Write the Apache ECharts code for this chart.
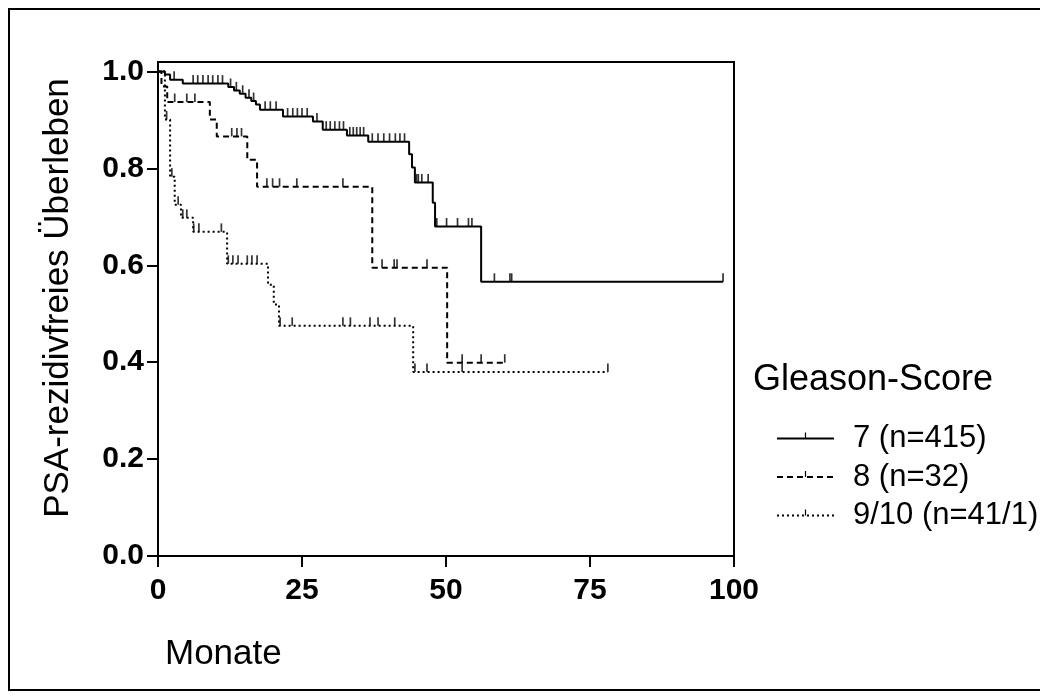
<!DOCTYPE html>
<html>
<head>
<meta charset="utf-8">
<script src="https://cdn.jsdelivr.net/npm/echarts@6/dist/echarts.min.js"></script>
<style>
html, body { margin: 0; padding: 0; background: #fff; }
#main { width: 1040px; height: 699px; }
</style>
</head>
<body>
<div id="main"></div>
<script>
// Kaplan-Meier steps: time (Monate) and survival after the step
var g7Times = [0, 1.2, 2.1, 4.3, 12.2, 13.2, 14.2, 15.2, 16.2, 17.0, 17.7, 21.7, 26.9, 28.6, 32.8, 36.5, 43.6, 44.1, 44.6, 47.7, 48.1, 56.1, 98.1];
var g7Surv  = [1.0, 0.994, 0.983, 0.975, 0.968, 0.961, 0.954, 0.946, 0.939, 0.932, 0.921, 0.907, 0.897, 0.880, 0.868, 0.855, 0.829, 0.802, 0.771, 0.729, 0.680, 0.566, 0.566];
var g7Censor = [2.8, 6.1, 6.9, 7.8, 8.7, 9.5, 10.4, 11.2, 12.6, 13.6, 14.7, 15.8, 16.6, 18.6, 19.5, 20.5, 22.5, 23.4, 24.2, 25.0, 25.9, 27.6, 29.2, 29.9, 30.7, 31.5, 32.2, 33.3, 33.9, 34.5, 35.1, 35.7, 37.2, 38.2, 39.2, 40.2, 41.2, 42.0, 42.8, 44.9, 45.2, 45.8, 46.9, 48.4, 50.1, 52.0, 53.9, 54.5, 58.4, 61.1, 61.4, 98.1];

var g8Times = [0, 0.6, 1.6, 9.0, 10.2, 15.5, 17.2, 37.2, 50.2, 60.2];
var g8Surv  = [1.0, 0.969, 0.937, 0.901, 0.866, 0.818, 0.762, 0.595, 0.399, 0.399];
var g8Censor = [2.9, 5.0, 6.4, 12.8, 13.7, 14.5, 18.9, 19.9, 21.1, 24.1, 32.1, 38.9, 41.0, 41.5, 46.7, 52.8, 56.1, 60.2];

var g9Times = [0, 1.2, 2.1, 2.9, 4.0, 6.1, 12.0, 19.1, 20.1, 21.0, 44.3, 78.1];
var g9Surv  = [1.0, 0.901, 0.783, 0.725, 0.698, 0.669, 0.603, 0.560, 0.519, 0.475, 0.380, 0.380];
var g9Censor = [1.5, 2.4, 3.5, 4.3, 5.0, 6.2, 7.1, 11.0, 12.2, 13.0, 13.9, 15.5, 16.3, 17.2, 21.2, 23.3, 32.1, 33.4, 36.8, 38.2, 41.1, 44.6, 46.7, 52.8, 78.1];

var groupNames = ['7 (n=415)', '8 (n=32)', '9/10 (n=41/1)'];
var yTicks = [0, 0.2, 0.4, 0.6, 0.8, 1.0];

var tickSymbol = 'path://M0,0M10,10M4.5,0H5.5V5H4.5Z';
var fontName = 'Liberation Sans, Arial, sans-serif';

function stepData(times, surv) {
    var out = [];
    for (var i = 0; i < times.length; i++) out.push([times[i], surv[i]]);
    return out;
}
function censorData(censor, times, surv) {
    var out = [];
    censor.forEach(function (t) {
        var s = surv[0];
        for (var i = 0; i < times.length; i++) {
            if (times[i] <= t) s = surv[i];
        }
        out.push([t, s]);
    });
    return out;
}

var groups = [
    { name: groupNames[0], times: g7Times, surv: g7Surv, censor: g7Censor, dash: 'solid' },
    { name: groupNames[1], times: g8Times, surv: g8Surv, censor: g8Censor, dash: [6, 4] },
    { name: groupNames[2], times: g9Times, surv: g9Surv, censor: g9Censor, dash: [2, 3] }
];

var series = [];
groups.forEach(function (g) {
    series.push({
        name: g.name,
        type: 'line',
        step: 'end',
        data: stepData(g.times, g.surv),
        symbol: tickSymbol,
        symbolSize: 12,
        showSymbol: false,
        silent: true,
        itemStyle: { color: '#000' },
        lineStyle: { color: '#000', width: 2, type: g.dash }
    });
    series.push({
        name: g.name,
        type: 'scatter',
        data: censorData(g.censor, g.times, g.surv),
        symbol: tickSymbol,
        symbolSize: 17,
        silent: true,
        itemStyle: { color: '#000' }
    });
});

var myChart = echarts.init(document.getElementById('main'));
var option = {
    animation: false,
    backgroundColor: '#fff',
    title: {
        text: 'Gleason-Score',
        left: 748,
        top: 357,
        textStyle: { fontFamily: fontName, fontSize: 36, fontWeight: 'normal', color: '#000' }
    },
    legend: {
        data: groupNames,
        orient: 'vertical',
        left: 776,
        top: 423,
        padding: 0,
        itemWidth: 57,
        itemHeight: 15,
        itemGap: 7.5,
        textStyle: { fontFamily: fontName, fontSize: 31, color: '#000', padding: [0, 0, 0, 14] }
    },
    grid: {
        left: 158,
        right: 306,
        top: 62,
        bottom: 143,
        show: true,
        borderColor: '#000',
        borderWidth: 2
    },
    xAxis: {
        type: 'value',
        min: 0,
        max: 100,
        interval: 25,
        axisLine: { lineStyle: { color: '#000', width: 2 } },
        axisTick: { length: 11, lineStyle: { color: '#000', width: 2 } },
        axisLabel: { fontFamily: fontName, fontSize: 30, fontWeight: 'bold', color: '#000', margin: 20 },
        splitLine: { show: false }
    },
    yAxis: {
        type: 'value',
        min: 0,
        max: 1.0196,
        name: 'PSA-rezidivfreies Überleben',
        nameLocation: 'middle',
        nameGap: 82,
        nameTextStyle: { fontFamily: fontName, fontSize: 35, color: '#000', padding: [0, 0, 0, 22] },
        axisLine: { lineStyle: { color: '#000', width: 2 } },
        axisTick: { length: 11, customValues: yTicks, lineStyle: { color: '#000', width: 2 } },
        axisLabel: {
            customValues: yTicks,
            fontFamily: fontName, fontSize: 30, fontWeight: 'bold', color: '#000', margin: 14,
            formatter: function (v) { return v.toFixed(1); }
        },
        splitLine: { show: false }
    },
    graphic: [
        {
            type: 'rect',
            shape: { x: 9, y: 9, width: 1040, height: 681 },
            style: { fill: 'none', stroke: '#000', lineWidth: 2 },
            silent: true
        },
        {
            type: 'text',
            left: 165,
            top: 637,
            style: { text: 'Monate', font: '35px ' + fontName, fill: '#000' }
        }
    ],
    series: series
};
myChart.setOption(option);
</script>
</body>
</html>
